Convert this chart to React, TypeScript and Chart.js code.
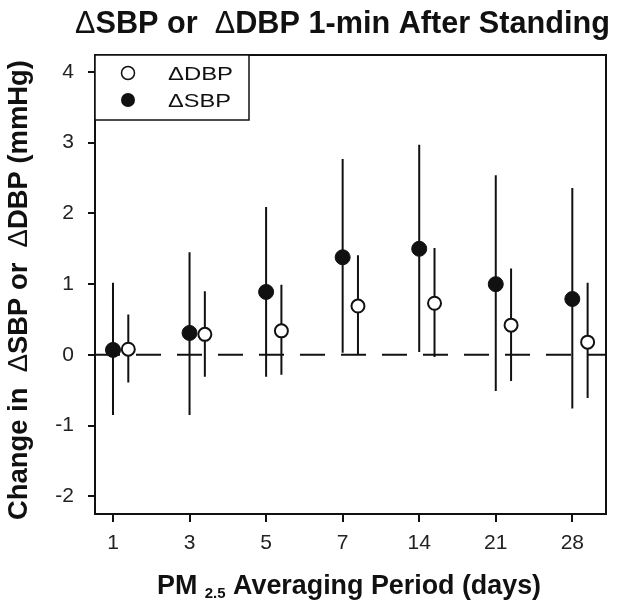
import React, { useEffect, useRef } from "react";
import { Chart, registerables } from "chart.js";

Chart.register(...registerables);

const periods = ["1", "3", "5", "7", "14", "21", "28"];
const sbpEst = [0.07, 0.31, 0.89, 1.38, 1.5, 1.0, 0.79];
const sbpLow = [-0.85, -0.85, -0.31, 0.03, 0.04, -0.51, -0.76];
const sbpHigh = [1.02, 1.45, 2.09, 2.77, 2.97, 2.54, 2.36];
const dbpEst = [0.08, 0.29, 0.34, 0.69, 0.73, 0.42, 0.18];
const dbpLow = [-0.39, -0.31, -0.28, 0.0, -0.03, -0.37, -0.61];
const dbpHigh = [0.57, 0.9, 0.99, 1.41, 1.51, 1.22, 1.02];
const yTicks = [-2, -1, 0, 1, 2, 3, 4];

const DBP_OFFSET = 0.2;
const FONT = "'Liberation Sans', Arial, sans-serif";

type Seg = { t: string; bold: boolean; size?: number; dy?: number };

function segWidth(ctx: any, segs: Seg[], size: number) {
  let w = 0;
  for (const s of segs) {
    ctx.font = `${s.bold ? "bold " : ""}${s.size ?? size}px ${FONT}`;
    w += ctx.measureText(s.t).width;
  }
  return w;
}

function drawSegs(ctx: any, segs: Seg[], x: number, y: number, size: number) {
  let cx = x;
  for (const s of segs) {
    ctx.font = `${s.bold ? "bold " : ""}${s.size ?? size}px ${FONT}`;
    ctx.fillText(s.t, cx, y + (s.dy ?? 0));
    cx += ctx.measureText(s.t).width;
  }
}

const titleSegs: Seg[] = [
  { t: "\u0394", bold: false },
  { t: "SBP or  ", bold: true },
  { t: "\u0394", bold: false },
  { t: "DBP 1-min After Standing", bold: true },
];
const yTitleSegs: Seg[] = [
  { t: "Change in  ", bold: true },
  { t: "\u0394", bold: false },
  { t: "SBP or  ", bold: true },
  { t: "\u0394", bold: false },
  { t: "DBP (mmHg)", bold: true },
];

function stretchedText(ctx: any, text: string, x: number, y: number, size: number, width: number) {
  ctx.font = `${size}px ${FONT}`;
  const w = ctx.measureText(text).width;
  ctx.save();
  ctx.translate(x, y);
  ctx.scale(width / w, 1);
  ctx.fillText(text, 0, 0);
  ctx.restore();
}

const decorPlugin = {
  id: "decor",
  beforeDatasetsDraw(chart: any) {
    const { ctx, chartArea: a, scales } = chart;
    const x = scales.x;
    const y = scales.y;
    ctx.save();
    ctx.strokeStyle = "#111";
    ctx.lineWidth = 2;
    ctx.setLineDash([25, 16]);
    ctx.beginPath();
    ctx.moveTo(a.left, y.getPixelForValue(0));
    ctx.lineTo(a.right, y.getPixelForValue(0));
    ctx.stroke();
    ctx.setLineDash([]);
    ctx.lineWidth = 2;
    for (let i = 0; i < periods.length; i++) {
      const xs = x.getPixelForValue(i);
      const xd = x.getPixelForValue(i + DBP_OFFSET);
      ctx.beginPath();
      ctx.moveTo(xs, y.getPixelForValue(sbpLow[i]));
      ctx.lineTo(xs, y.getPixelForValue(sbpHigh[i]));
      ctx.moveTo(xd, y.getPixelForValue(dbpLow[i]));
      ctx.lineTo(xd, y.getPixelForValue(dbpHigh[i]));
      ctx.stroke();
    }
    ctx.restore();
  },
  afterDraw(chart: any) {
    const { ctx, chartArea: a } = chart;
    ctx.save();
    ctx.strokeStyle = "#111";
    ctx.lineWidth = 2;
    ctx.strokeRect(a.left, a.top, a.right - a.left, a.bottom - a.top);
    // legend
    ctx.lineWidth = 1.5;
    ctx.fillStyle = "#fff";
    ctx.fillRect(a.left, a.top, 154, 65);
    ctx.strokeRect(a.left, a.top, 154, 65);
    ctx.beginPath();
    ctx.arc(a.left + 33, a.top + 18, 6.5, 0, Math.PI * 2);
    ctx.fillStyle = "#fff";
    ctx.fill();
    ctx.stroke();
    ctx.beginPath();
    ctx.arc(a.left + 33, a.top + 45, 7, 0, Math.PI * 2);
    ctx.fillStyle = "#111";
    ctx.fill();
    ctx.textAlign = "left";
    ctx.textBaseline = "alphabetic";
    stretchedText(ctx, "\u0394DBP", a.left + 73, a.top + 25, 19, 65);
    stretchedText(ctx, "\u0394SBP", a.left + 73, a.top + 52, 19, 63);
    // title: fit to reference span
    const tw = segWidth(ctx, titleSegs, 28);
    const tSize = 28 * (535 / tw);
    drawSegs(ctx, titleSegs, 75, 33, tSize);
    // y title
    ctx.save();
    const yw = segWidth(ctx, yTitleSegs, 26);
    const ySize = 26 * (460 / yw);
    ctx.translate(27, 520);
    ctx.rotate(-Math.PI / 2);
    drawSegs(ctx, yTitleSegs, 0, 0, ySize);
    ctx.restore();
    // x title with subscript
    const xSegs: Seg[] = [
      { t: "PM ", bold: true },
      { t: "2.5", bold: true, size: 15, dy: 4 },
      { t: " Averaging Period (days)", bold: true },
    ];
    const xw = segWidth(ctx, xSegs, 26);
    const xSize = 26 * (385 / xw);
    drawSegs(ctx, xSegs, 157, 594, xSize);
    ctx.restore();
  },
};

export default function App() {
  const ref = useRef<HTMLCanvasElement>(null);
  useEffect(() => {
    if (!ref.current) return;
    const chart = new Chart(ref.current, {
      type: "scatter",
      data: {
        datasets: [
          {
            label: "\u0394SBP",
            data: sbpEst.map((v, i) => ({ x: i, y: v })),
            pointRadius: 7.5,
            pointBackgroundColor: "#111",
            pointBorderColor: "#111",
            pointBorderWidth: 1,
          },
          {
            label: "\u0394DBP",
            data: dbpEst.map((v, i) => ({ x: i + DBP_OFFSET, y: v })),
            pointRadius: 6.5,
            pointBackgroundColor: "#fff",
            pointBorderColor: "#111",
            pointBorderWidth: 2,
          },
        ],
      },
      plugins: [decorPlugin],
      options: {
        animation: false,
        responsive: false,
        layout: { padding: { left: 0, top: 55, right: 18, bottom: 0 } },
        plugins: {
          legend: { display: false },
          tooltip: { enabled: false },
          title: { display: false },
        },
        scales: {
          x: {
            type: "linear",
            min: -0.235,
            max: 6.44,
            afterFit(scale: any) {
              scale.height = 97;
            },
            afterBuildTicks(scale: any) {
              scale.ticks = periods.map((_, i) => ({ value: i }));
            },
            ticks: {
              color: "#222",
              font: { family: FONT, size: 21 },
              padding: 9,
              callback: (v: any) => periods[Math.round(Number(v))] ?? "",
            },
            grid: {
              drawOnChartArea: false,
              color: "#111",
              lineWidth: 2,
              tickLength: 8,
            },
            border: { color: "#111", width: 2 },
          },
          y: {
            min: -2.25,
            max: 4.24,
            afterFit(scale: any) {
              scale.width = 95;
            },
            afterBuildTicks(scale: any) {
              scale.ticks = yTicks.map((v) => ({ value: v }));
            },
            ticks: {
              color: "#222",
              font: { family: FONT, size: 21 },
              padding: 14,
            },
            grid: {
              drawOnChartArea: false,
              color: "#111",
              lineWidth: 2,
              tickLength: 7,
            },
            border: { color: "#111", width: 2 },
          },
        },
      },
    });
    return () => chart.destroy();
  }, []);
  return (
    <div style={{ position: "fixed", left: 0, top: 0, width: 624, height: 611, background: "#fff" }}>
      <canvas ref={ref} width={624} height={611} style={{ display: "block" }} />
    </div>
  );
}
